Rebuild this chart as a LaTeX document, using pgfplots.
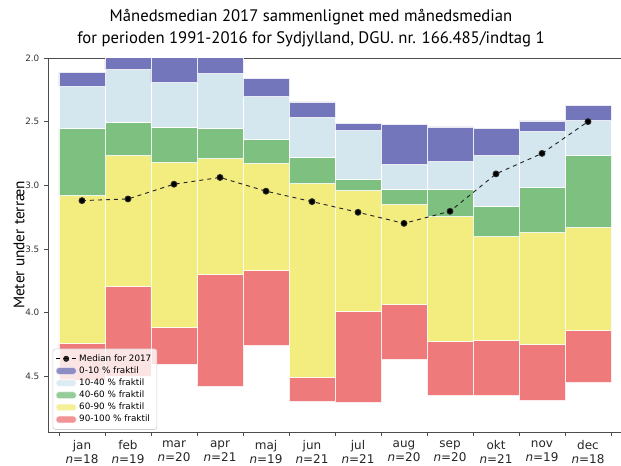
\documentclass[border=0pt]{standalone}
\usepackage{pgfplots}
\usepackage{pgfplotstable}
\usepackage{fontspec}
\pgfplotsset{compat=1.18}
\setmainfont{DejaVu Sans}
\newfontfamily\titlefont{PT Sans}

\definecolor{cpurple}{RGB}{115,118,187}
\definecolor{clight}{RGB}{212,231,239}
\definecolor{cgreen}{RGB}{125,192,128}
\definecolor{cyellow}{RGB}{243,236,127}
\definecolor{cred}{RGB}{239,122,124}

% bar edges (metres below terrain), one row per month
\pgfplotstableread{
x    top   p10   p40   p60   p90   p100  med
0.5  2.113 2.224 2.555 3.082 4.246 4.530 3.121
1.5  1.950 2.089 2.503 2.768 3.798 4.500 3.108
2.5  1.850 2.187 2.545 2.818 4.120 4.408 2.992
3.5  1.900 2.118 2.553 2.792 3.699 4.584 2.939
4.5  2.161 2.297 2.637 2.826 3.668 4.262 3.047
5.5  2.345 2.463 2.784 2.984 4.510 4.699 3.129
6.5  2.511 2.568 2.950 3.042 3.992 4.704 3.213
7.5  2.521 2.839 3.034 3.153 3.932 4.369 3.300
8.5  2.542 2.813 3.029 3.245 4.225 4.649 3.205
9.5  2.553 2.768 3.166 3.405 4.215 4.649 2.911
10.5 2.495 2.574 3.016 3.368 4.251 4.691 2.750
11.5 2.374 2.487 2.763 3.329 4.139 4.547 2.500
}\data

\pgfplotsset{
    frame/.style={scale only axis, width=429.75pt, height=280.5pt,
        xmin=-0.239, xmax=12.217, ymin=2, ymax=4.94, y dir=reverse},
    bar legend/.style={legend image code/.code={
        \fill[##1] (0pt,-2.5pt) rectangle (15pt,2.5pt);}},
}

\begin{document}
\begin{tikzpicture}
\begin{axis}[
    frame,
    ybar stacked, bar width=1,
    axis x line*=box, axis y line*=left,
    axis line style={black!70, -},
    xtick pos=bottom, ytick pos=left,
    tick align=outside, major tick length=3pt,
    tick style={black!70},
    xtick={0,...,12},
    x tick label as interval,
    xticklabels={jan\\\textit{n}=18, feb\\\textit{n}=19, mar\\\textit{n}=20, apr\\\textit{n}=21,
                 maj\\\textit{n}=19, jun\\\textit{n}=21, jul\\\textit{n}=21, aug\\\textit{n}=20,
                 sep\\\textit{n}=20, okt\\\textit{n}=21, nov\\\textit{n}=19, dec\\\textit{n}=18},
    xticklabel style={align=center, font=\fontsize{9}{10.5}\selectfont, text=black!85},
    ytick={2,2.5,...,4.5},
    yticklabel style={font=\fontsize{6.6}{8}\selectfont, text=black!80,
        /pgf/number format/.cd, fixed, fixed zerofill, precision=1, assume math mode=true},
    ylabel={Meter under terræn},
    ylabel style={at={(rel axis cs:-0.0506,0.5)}, anchor=center,
        font=\titlefont\fontsize{11.5}{13}\selectfont},
    title={Månedsmedian 2017 sammenlignet med månedsmedian\\for perioden 1991-2016 for Sydjylland, DGU. nr. 166.485/indtag 1},
    title style={at={(0.459,1)}, anchor=south, yshift=2pt, inner sep=0pt, align=center,
        font=\titlefont\fontsize{12.5}{16.5}\selectfont},
    legend cell align=left,
    legend style={at={(0.008,0.006)}, anchor=south west, draw=black!20, fill=white,
        fill opacity=0.8, text opacity=1, rounded corners=2pt,
        font=\fontsize{6.6}{8}\selectfont, row sep=-1.4pt, inner sep=2.2pt},
]
\addlegendimage{legend image code/.code={
    \draw[black, dashed, line width=0.6pt] (0pt,0pt) -- (15pt,0pt);
    \fill[black] (7.5pt,0pt) circle (2pt);}}
\addlegendentry{Median for 2017}

\addplot[fill=none, draw=none, forget plot] table[x=x, y=top] {\data};

\addplot[fill=cpurple, draw=white!85!cpurple, line width=0.4pt, bar legend]
    table[x=x, y expr=\thisrow{p10}-\thisrow{top}] {\data};
\addlegendentry{0-10 \% fraktil}
\addplot[fill=clight, draw=white, line width=0.4pt, bar legend]
    table[x=x, y expr=\thisrow{p40}-\thisrow{p10}] {\data};
\addlegendentry{10-40 \% fraktil}
\addplot[fill=cgreen, draw=white!85!cgreen, line width=0.4pt, bar legend]
    table[x=x, y expr=\thisrow{p60}-\thisrow{p40}] {\data};
\addlegendentry{40-60 \% fraktil}
\addplot[fill=cyellow, draw=white!85!cyellow, line width=0.4pt, bar legend]
    table[x=x, y expr=\thisrow{p90}-\thisrow{p60}] {\data};
\addlegendentry{60-90 \% fraktil}
\addplot[fill=cred, draw=white!85!cred, line width=0.4pt, bar legend]
    table[x=x, y expr=\thisrow{p100}-\thisrow{p90}] {\data};
\addlegendentry{90-100 \% fraktil}
\end{axis}

% 2017 medians on an overlaid axis with the same frame
\begin{axis}[frame, hide axis]
\addplot[black!85, dashed, line width=0.7pt,
    mark=*, mark size=2.2pt, mark options={solid, fill=black}]
    table[x=x, y=med] {\data};
\end{axis}
\pgfresetboundingbox
\path (-36pt,-24.75pt) rectangle (429.75pt,324pt);
\end{tikzpicture}
\end{document}
